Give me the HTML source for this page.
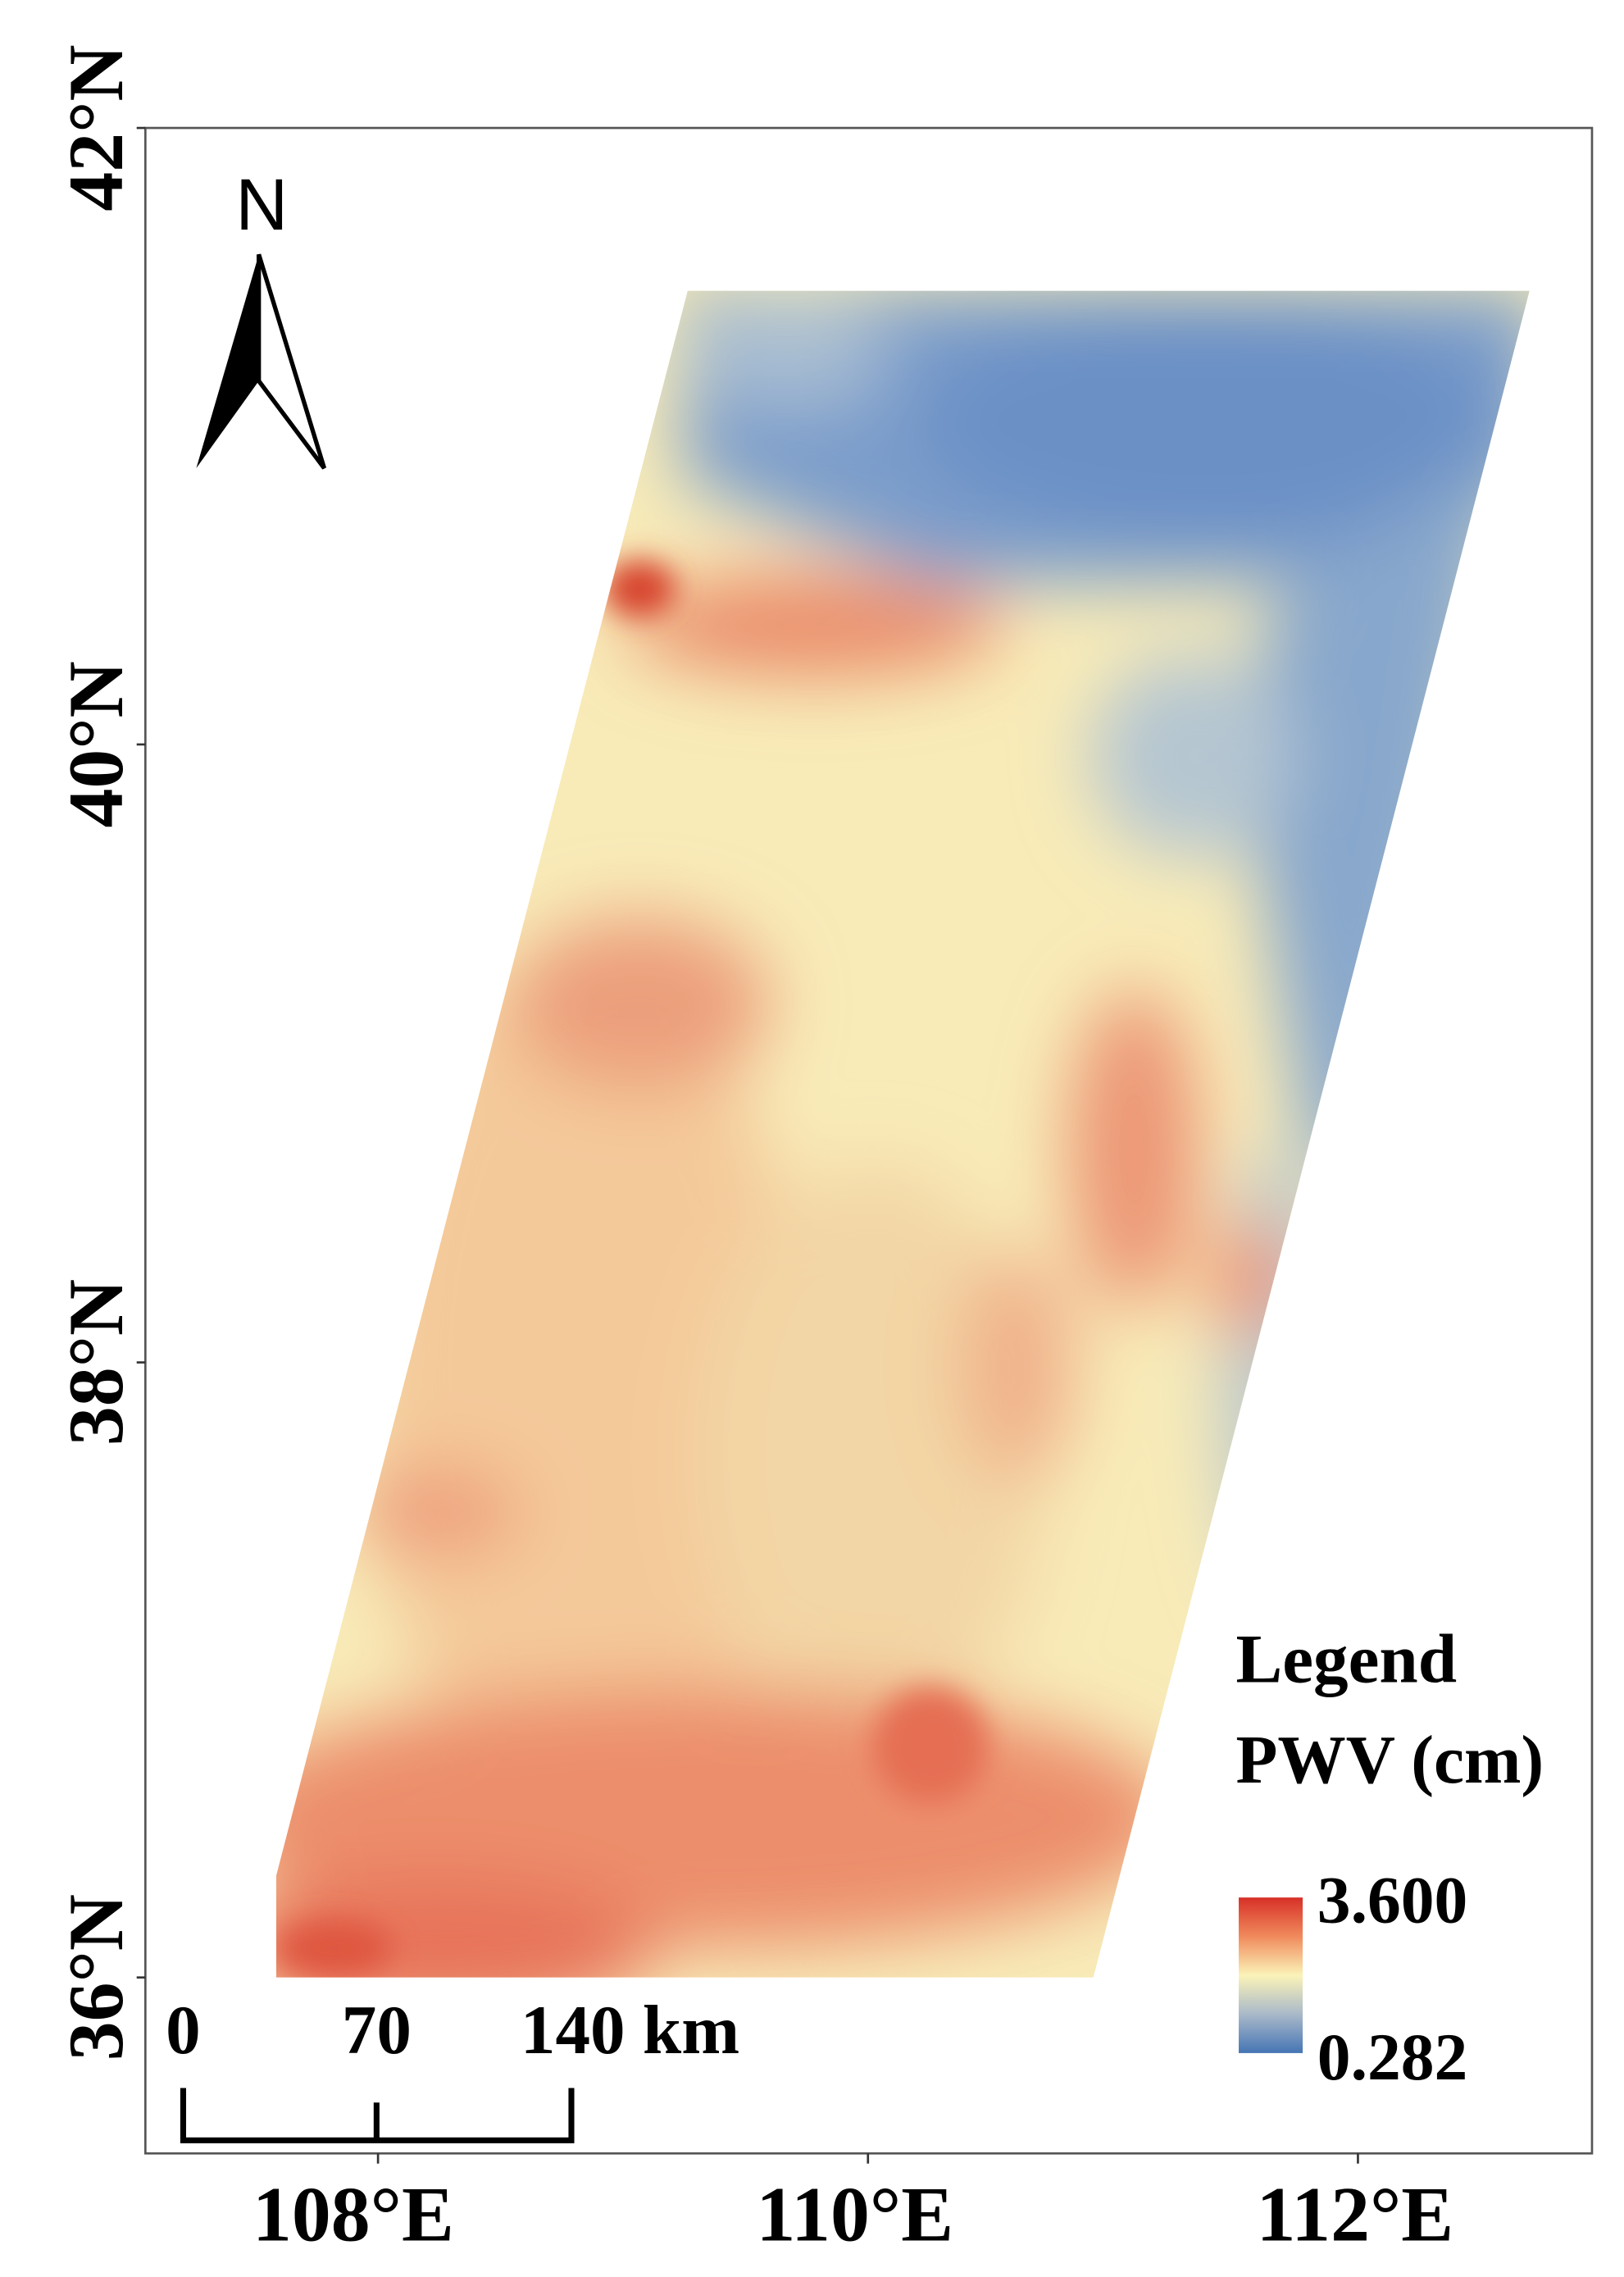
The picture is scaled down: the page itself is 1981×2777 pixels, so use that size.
<!DOCTYPE html>
<html><head><meta charset="utf-8"><style>html,body{margin:0;padding:0;background:#fff}svg{display:block}</style></head>
<body>
<svg width="1981" height="2777" viewBox="0 0 1117 1566" preserveAspectRatio="none" xmlns="http://www.w3.org/2000/svg">
<defs>
<clipPath id="map"><polygon points="473,200 1052,200 752,1360 190,1360 190,1290"/></clipPath>
<filter id="b1" x="-50%" y="-50%" width="200%" height="200%"><feGaussianBlur stdDeviation="25"/></filter>
<filter id="b2" x="-50%" y="-50%" width="200%" height="200%"><feGaussianBlur stdDeviation="10"/></filter>
<linearGradient id="cb" x1="0" y1="0" x2="0" y2="1">
<stop offset="0" stop-color="#d73027"/><stop offset="0.25" stop-color="#f08a5c"/><stop offset="0.5" stop-color="#fbf3b8"/><stop offset="0.75" stop-color="#a9b9c9"/><stop offset="1" stop-color="#4575b4"/></linearGradient>
</defs>
<rect x="100" y="88" width="995" height="1393" fill="#fff" stroke="#555" stroke-width="1.5"/>
<g clip-path="url(#map)">
<rect x="180" y="190" width="900" height="1180" fill="#f8ebb8"/>
<g filter="url(#b1)">
<ellipse cx="400" cy="950" rx="150" ry="300" fill="#f4c99a"/>
<ellipse cx="600" cy="1000" rx="120" ry="200" fill="#f3d6a5"/>
<polygon points="470,200 1060,200 1060,340 900,400 640,400 470,330" fill="#7b9dcb"/>
<ellipse cx="830" cy="290" rx="200" ry="80" fill="#6a90c6"/>
<ellipse cx="540" cy="240" rx="70" ry="40" fill="#a9bed2"/>
<polygon points="870,420 1040,300 1000,560 950,800 900,800 860,560" fill="#88a7cc"/>
<ellipse cx="820" cy="520" rx="70" ry="70" fill="#b5c6d1"/>
<ellipse cx="880" cy="950" rx="40" ry="160" fill="#b9c7cd"/>
<ellipse cx="560" cy="430" rx="130" ry="35" fill="#ea8c6b"/>
<ellipse cx="440" cy="690" rx="90" ry="60" fill="#ec9f7c"/>
<ellipse cx="780" cy="790" rx="45" ry="110" fill="#ec9575"/>
<ellipse cx="700" cy="940" rx="40" ry="80" fill="#f0b18a"/>
<ellipse cx="480" cy="1250" rx="330" ry="90" fill="#ec8e6c"/>
<ellipse cx="300" cy="1340" rx="150" ry="50" fill="#e7735a"/>
<ellipse cx="300" cy="1040" rx="60" ry="30" fill="#ee9e7c"/>
<ellipse cx="860" cy="880" rx="25" ry="40" fill="#ec8a6b"/>
</g>
<g filter="url(#b2)">
<ellipse cx="440" cy="405" rx="25" ry="20" fill="#d7442f"/>
<ellipse cx="640" cy="1200" rx="40" ry="40" fill="#e56e52"/>
<ellipse cx="230" cy="1340" rx="40" ry="20" fill="#df5640"/>
</g>
</g>
<g stroke="#333" stroke-width="1.5">
<line x1="94" y1="88" x2="100" y2="88"/><line x1="94" y1="512" x2="100" y2="512"/>
<line x1="94" y1="937" x2="100" y2="937"/><line x1="94" y1="1360" x2="100" y2="1360"/>
<line x1="260" y1="1481" x2="260" y2="1488"/><line x1="597" y1="1481" x2="597" y2="1488"/><line x1="934" y1="1481" x2="934" y2="1488"/>
</g>
<g font-family="Liberation Serif, serif" font-weight="bold" font-size="54" fill="#000">
<text x="243" y="1541" text-anchor="middle">108°E</text>
<text x="588" y="1541" text-anchor="middle">110°E</text>
<text x="932" y="1541" text-anchor="middle">112°E</text>
<text transform="translate(84,88) rotate(-90)" text-anchor="middle">42°N</text>
<text transform="translate(84,512) rotate(-90)" text-anchor="middle">40°N</text>
<text transform="translate(84,937) rotate(-90)" text-anchor="middle">38°N</text>
<text transform="translate(84,1360) rotate(-90)" text-anchor="middle">36°N</text>
</g>
<text x="180" y="158" text-anchor="middle" font-family="Liberation Sans, sans-serif" font-size="50" fill="#000">N</text>
<polygon points="178,175 135,322 178,262" fill="#000"/>
<polygon points="178,175 223,322 178,262" fill="#fff" stroke="#000" stroke-width="3" stroke-linejoin="miter"/>
<g font-family="Liberation Serif, serif" font-weight="bold" font-size="48" fill="#000">
<text x="126" y="1412" text-anchor="middle">0</text>
<text x="259" y="1412" text-anchor="middle">70</text>
<text x="358" y="1412">140 km</text>
</g>
<g stroke="#000" stroke-width="4" fill="none">
<polyline points="126,1436 126,1472 393,1472 393,1436"/>
<line x1="259" y1="1446" x2="259" y2="1472"/>
</g>
<g font-family="Liberation Serif, serif" font-weight="bold" fill="#000">
<text x="850" y="1157" font-size="48">Legend</text>
<text x="850" y="1226" font-size="47">PWV (cm)</text>
<text x="906" y="1322" font-size="46">3.600</text>
<text x="906" y="1430" font-size="46">0.282</text>
</g>
<rect x="852" y="1305" width="44" height="107" fill="url(#cb)"/>
</svg>
</body></html>
